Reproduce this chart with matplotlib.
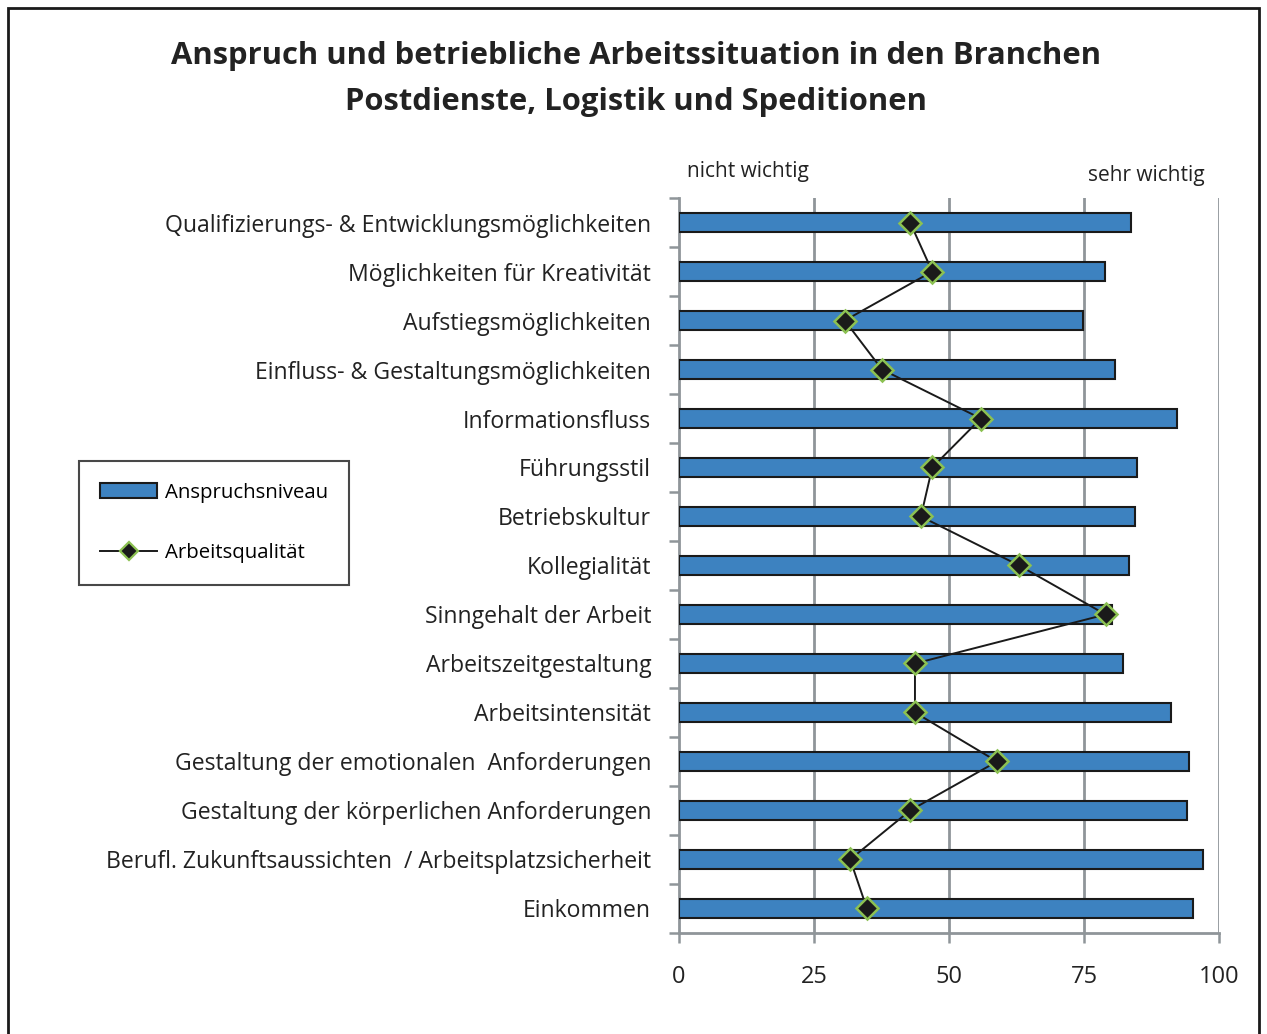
import numpy as np
import matplotlib.pyplot as plt
from matplotlib.patches import Rectangle
from matplotlib.lines import Line2D

plt.rcParams['font.family'] = ['Open Sans', 'DejaVu Sans']

categories = ['Qualifizierungs- & Entwicklungsmöglichkeiten',
              'Möglichkeiten für Kreativität',
              'Aufstiegsmöglichkeiten',
              'Einfluss- & Gestaltungsmöglichkeiten',
              'Informationsfluss',
              'Führungsstil',
              'Betriebskultur',
              'Kollegialität',
              'Sinngehalt der Arbeit',
              'Arbeitszeitgestaltung',
              'Arbeitsintensität',
              'Gestaltung der emotionalen  Anforderungen',
              'Gestaltung der körperlichen Anforderungen',
              'Berufl. Zukunftsaussichten  / Arbeitsplatzsicherheit',
              'Einkommen']
anspruch = [83.7, 78.9, 74.8, 80.7, 92.2, 84.8, 84.4, 83.3, 80.2, 82.2,
            91.1, 94.4, 94.1, 97.0, 95.2]
qualitaet = [42.8, 46.9, 30.7, 37.6, 55.9, 46.9, 44.8, 63.0, 79.0, 43.7,
             43.7, 58.9, 42.8, 31.7, 34.8]
xticks = [0, 25, 50, 75, 100]

bar_col = '#3d82c0'
edge_green = '#8cc152'
grid_col = '#8f9599'
txt = '#222222'

fig = plt.figure(figsize=(12.67, 10.34), dpi=100)
ax = fig.add_axes([0.5359, 0.0977, 0.4262, 0.7108])

y = np.arange(len(categories))
ax.barh(y, anspruch, height=0.4, color=bar_col, edgecolor='#1a1a1a',
        linewidth=1.5, zorder=3)
ax.plot(qualitaet, y, color='#1a1a1a', linewidth=1.4, marker='D',
        markersize=11, markerfacecolor='#1a1a1a', markeredgecolor=edge_green,
        markeredgewidth=1.8, zorder=4)

ax.set_xlim(0, 100)
ax.set_ylim(len(categories) - 0.5, -0.5)
ax.set_xticks(xticks)
ax.set_xticklabels([str(t) for t in xticks], fontsize=17, color=txt)
ax.set_yticks(y)
ax.set_yticklabels(categories, fontsize=16.6, color=txt)
ax.tick_params(axis='y', length=0, pad=20)
ax.set_yticks(np.arange(len(categories) + 1) - 0.5, minor=True)
ax.tick_params(axis='y', which='minor', length=7, width=1.8, color=grid_col,
               direction='out')
ax.tick_params(axis='x', length=7, width=1.8, color=grid_col, pad=16,
               direction='out')
for t in xticks[1:]:
    ax.axvline(t, color=grid_col, linewidth=2, zorder=1)
for s in ['top', 'right']:
    ax.spines[s].set_visible(False)
for s in ['left', 'bottom']:
    ax.spines[s].set_color(grid_col)
    ax.spines[s].set_linewidth(2)

fig.text(0.502, 0.946, 'Anspruch und betriebliche Arbeitssituation in den Branchen',
         ha='center', va='center', fontsize=22.3, fontweight='bold', color=txt)
fig.text(0.502, 0.901, 'Postdienste, Logistik und Speditionen',
         ha='center', va='center', fontsize=22.3, fontweight='bold', color=txt)
fig.text(0.542, 0.834, 'nicht wichtig', ha='left', va='center', fontsize=15,
         color=txt)
fig.text(0.905, 0.830, 'sehr wichtig', ha='center', va='center', fontsize=15,
         color=txt)

# legend
handles = [Rectangle((0, 0), 1, 1, facecolor=bar_col, edgecolor='#1a1a1a',
                     linewidth=1.5),
           Line2D([], [], color='#1a1a1a', linewidth=1.4, marker='D',
                  markersize=9, markerfacecolor='#1a1a1a',
                  markeredgecolor=edge_green, markeredgewidth=1.6)]
leg = fig.legend(handles, ['Anspruchsniveau', 'Arbeitsqualität'],
                 loc='upper left', bbox_to_anchor=(0.0624, 0.554),
                 fontsize=14.7, frameon=True, fancybox=False, edgecolor='#1a1a1a',
                 borderpad=1.05, labelspacing=2.0, handlelength=2.75,
                 handletextpad=0.4, borderaxespad=0)
leg.get_frame().set_linewidth(1.5)

# figure border
fig.add_artist(Rectangle((0.0065, -0.01), 0.987, 1.002, transform=fig.transFigure,
                         fill=False, edgecolor='#1a1a1a', linewidth=2))

fig.savefig('out.png', dpi=100)
